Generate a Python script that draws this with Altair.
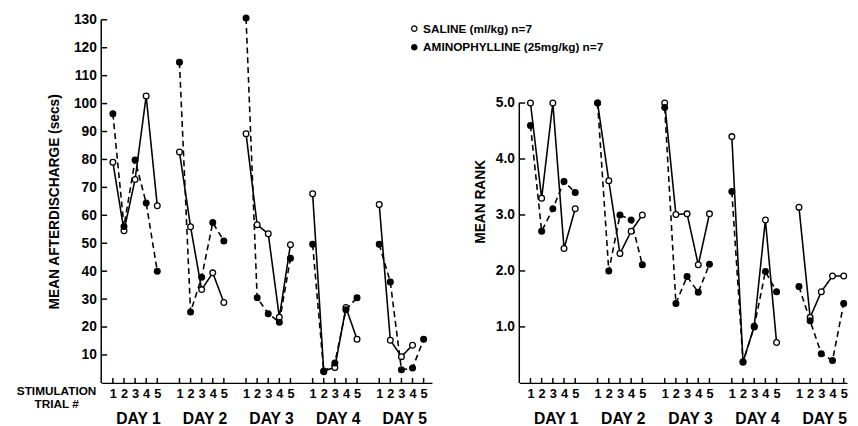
import altair as alt
import pandas as pd

days = [1, 2, 3, 4, 5]
trials = [1, 2, 3, 4, 5]
series_names = ["SALINE (ml/kg) n=7", "AMINOPHYLLINE (25mg/kg) n=7"]

# Mean afterdischarge (secs), rows = days, cols = trials
saline_ad = [
    [79.0, 54.5, 72.8, 102.7, 63.4],
    [82.7, 55.9, 33.4, 39.4, 28.8],
    [89.2, 56.6, 53.4, 23.5, 49.5],
    [67.7, 4.3, 5.5, 27.0, 15.6],
    [63.9, 15.3, 9.4, 13.5, None],
]
amino_ad = [
    [96.4, 56.0, 79.8, 64.4, 40.0],
    [114.8, 25.4, 37.8, 57.4, 50.8],
    [130.6, 30.5, 24.8, 21.7, 44.6],
    [49.6, 4.0, 7.1, 26.2, 30.5],
    [49.6, 36.1, 4.7, 5.3, 15.6],
]
# Mean rank
saline_rank = [
    [5.0, 3.30, 5.0, 2.40, 3.11],
    [5.0, 3.61, 2.31, 2.71, 3.00],
    [5.0, 3.01, 3.02, 2.11, 3.02],
    [4.40, 0.37, 1.01, 2.91, 0.72],
    [3.14, 1.17, 1.63, 1.91, 1.91],
]
amino_rank = [
    [4.60, 2.71, 3.11, 3.60, 3.40],
    [5.0, 2.00, 3.00, 2.91, 2.11],
    [4.92, 1.42, 1.90, 1.62, 2.12],
    [3.42, 0.38, 1.00, 1.99, 1.63],
    [1.72, 1.11, 0.52, 0.40, 1.42],
]
ad_ticks = [10, 20, 30, 40, 50, 60, 70, 80, 90, 100, 110, 120, 130]
rank_ticks = [1.0, 2.0, 3.0, 4.0, 5.0]
day_labels = ["DAY 1", "DAY 2", "DAY 3", "DAY 4", "DAY 5"]

FONT = "Liberation Sans"
slots = [(d - 1) * 6 + (t - 1) for d in days for t in trials]


def build(sal, ami):
    rows = []
    for s, vals in zip(series_names, [sal, ami]):
        for di, d in enumerate(days):
            for ti, t in enumerate(trials):
                v = vals[di][ti]
                if v is None:
                    continue
                rows.append(dict(series=s, day=d, trial=t,
                                 slot=(d - 1) * 6 + (t - 1), value=v))
    return pd.DataFrame(rows)


def panel(df, yticks, ytitle, fmt, width, height, xdom, ydom, top_val,
          xtitle, ytitle_pad, show_legend):
    xs = alt.Scale(domain=xdom, nice=False, zero=False)
    ys = alt.Scale(domain=ydom, nice=False, zero=False)
    xaxis_kw = dict(values=slots, labelExpr="toString(datum.value % 6 + 1)",
                    tickSize=0, labelPadding=5, labelFontSize=13,
                    labelOverlap=False, labelFlush=False, labelBound=False,
                    grid=False, domainColor="black", domainWidth=1.5)
    if xtitle:
        xaxis_kw.update(title=xtitle, titleX=-46, titleY=3,
                        titleAlign="center", titleBaseline="top",
                        titleFontSize=12, titleLineHeight=13,
                        titleFont=FONT, titleFontWeight="bold")
    else:
        xaxis_kw.update(title=None)
    x = alt.X("slot:Q", scale=xs, axis=alt.Axis(**xaxis_kw))
    y = alt.Y("value:Q", scale=ys, axis=alt.Axis(
        values=yticks, format=fmt, tickSize=0, labelPadding=5,
        labelOverlap=False, labelFlush=False, labelBound=False,
        labelFontSize=14, grid=False, domain=False, title=ytitle,
        titleFontSize=14, titleFont=FONT, titleFontWeight="bold",
        titlePadding=ytitle_pad))

    line = alt.Chart(df).mark_line(color="black", strokeWidth=1.6).encode(
        x=x, y=y,
        strokeDash=alt.StrokeDash("series:N", scale=alt.Scale(
            domain=series_names, range=[[1, 0], [6, 4]]), legend=None),
        detail="day:N",
    )
    if show_legend:
        leg = alt.Legend(title=None, orient="none", legendX=313, legendY=3,
                         symbolType="circle", symbolSize=30,
                         symbolStrokeColor="black", symbolStrokeWidth=1.2,
                         labelFont=FONT, labelFontSize=12,
                         labelFontWeight="bold", labelColor="black",
                         labelLimit=400, rowPadding=7, padding=0,
                         labelOffset=3)
    else:
        leg = None
    pts = alt.Chart(df).mark_point(shape="circle", filled=True, stroke="black",
                                   strokeWidth=1.3, size=34, opacity=1).encode(
        x=x, y=y,
        fill=alt.Fill("series:N", scale=alt.Scale(domain=series_names,
                                                   range=["white", "black"]),
                      legend=leg),
    )
    ytick_df = pd.DataFrame({"value": yticks})
    yt = alt.Chart(ytick_df).mark_rule(color="black", strokeWidth=1.5).encode(
        y=y, x=alt.value(0), x2=alt.value(6))
    xtick_df = pd.DataFrame({"slot": slots})
    xt = alt.Chart(xtick_df).mark_rule(color="black", strokeWidth=1.5).encode(
        x=x, y=alt.value(height), y2=alt.value(height - 5))
    ydom_df = pd.DataFrame({"value": [0.0], "value2": [top_val]})
    ydomain = alt.Chart(ydom_df).mark_rule(color="black", strokeWidth=1.5).encode(
        y=y, y2="value2:Q", x=alt.value(0))
    day_df = pd.DataFrame({"slot": [(d - 1) * 6 + 2.3 for d in days],
                           "label": day_labels})
    dl = alt.Chart(day_df).mark_text(font=FONT, fontWeight="bold", fontSize=16,
                                     color="black", baseline="middle").encode(
        x=x, y=alt.value(height + 37), text="label:N")
    return alt.layer(line, pts, yt, xt, ydomain, dl).properties(
        width=width, height=height)


left = panel(build(saline_ad, amino_ad), ad_ticks,
             "MEAN AFTERDISCHARGE (secs)", "d", 337, 370,
             [-1.05, 28.75], [0, 130], 130, ["STIMULATION", "TRIAL #"], 12,
             True)
right = panel(build(saline_rank, amino_rank), rank_ticks, "MEAN RANK", ".1f",
              334, 370, [-1.0, 28.3], [0, 6.487], 5.0, None, 8, False)

chart = alt.hconcat(left, right, spacing=89, bounds="flush").resolve_legend(
    fill="independent"
).properties(
    padding={"left": 8, "top": 0, "right": 0, "bottom": 0}
).configure_view(stroke=None).configure_axis(
    labelFont=FONT, labelFontWeight="bold", labelColor="black",
    titleColor="black", labelOverlap=False
)

chart.save("out.html", embed_options={"renderer": "svg", "actions": False})
